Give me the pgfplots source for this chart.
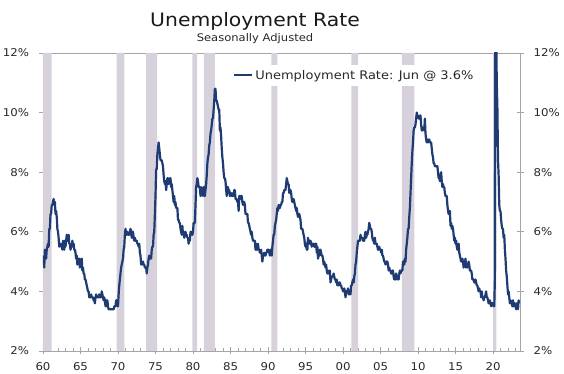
\documentclass[border=0pt]{standalone}
\usepackage{pgfplots}
\pgfplotsset{compat=1.18}
\usepackage{pgfplotstable}
\usepackage{fontspec}
\setmainfont{DejaVu Sans}[FakeStretch=1.1]
\definecolor{navy}{RGB}{31,59,115}
\definecolor{recess}{RGB}{214,209,219}
\definecolor{axgray}{RGB}{165,165,165}
\definecolor{txt}{RGB}{40,40,40}
\pgfplotstableread[row sep=\\]{u\\
5.2\\4.8\\5.4\\5.2\\5.1\\5.4\\5.5\\5.6\\5.5\\6.1\\6.1\\6.6\\
6.6\\6.9\\6.9\\7.0\\7.1\\6.9\\7.0\\6.6\\6.7\\6.5\\6.1\\6.0\\
5.8\\5.5\\5.6\\5.6\\5.5\\5.5\\5.4\\5.7\\5.6\\5.4\\5.7\\5.5\\
5.7\\5.9\\5.7\\5.7\\5.9\\5.6\\5.6\\5.4\\5.5\\5.5\\5.7\\5.5\\
5.6\\5.4\\5.4\\5.3\\5.1\\5.2\\4.9\\5.0\\5.1\\5.1\\4.8\\5.0\\
4.9\\5.1\\4.7\\4.8\\4.6\\4.6\\4.4\\4.4\\4.3\\4.2\\4.1\\4.0\\
4.0\\3.8\\3.8\\3.8\\3.9\\3.8\\3.8\\3.8\\3.7\\3.7\\3.6\\3.8\\
3.9\\3.8\\3.8\\3.8\\3.8\\3.9\\3.8\\3.8\\3.8\\4.0\\3.9\\3.8\\
3.7\\3.8\\3.7\\3.5\\3.5\\3.7\\3.7\\3.5\\3.4\\3.4\\3.4\\3.4\\
3.4\\3.4\\3.4\\3.4\\3.4\\3.5\\3.5\\3.5\\3.7\\3.7\\3.5\\3.5\\
3.9\\4.2\\4.4\\4.6\\4.8\\4.9\\5.0\\5.1\\5.4\\5.5\\5.9\\6.1\\
5.9\\5.9\\6.0\\5.9\\5.9\\5.9\\6.0\\6.1\\6.0\\5.8\\6.0\\6.0\\
5.8\\5.7\\5.8\\5.7\\5.7\\5.7\\5.6\\5.6\\5.5\\5.6\\5.3\\5.2\\
4.9\\5.0\\4.9\\5.0\\4.9\\4.9\\4.8\\4.8\\4.8\\4.6\\4.8\\4.9\\
5.1\\5.2\\5.1\\5.1\\5.1\\5.4\\5.5\\5.5\\5.9\\6.0\\6.6\\7.2\\
8.1\\8.1\\8.6\\8.8\\9.0\\8.8\\8.6\\8.4\\8.4\\8.4\\8.3\\8.2\\
7.9\\7.7\\7.6\\7.7\\7.4\\7.6\\7.8\\7.8\\7.6\\7.7\\7.8\\7.8\\
7.5\\7.6\\7.4\\7.2\\7.0\\7.2\\6.9\\7.0\\6.8\\6.8\\6.8\\6.4\\
6.4\\6.3\\6.3\\6.1\\6.0\\5.9\\6.2\\5.9\\6.0\\5.8\\5.9\\6.0\\
5.9\\5.9\\5.8\\5.8\\5.6\\5.7\\5.7\\6.0\\5.9\\6.0\\5.9\\6.0\\
6.3\\6.3\\6.3\\6.9\\7.5\\7.6\\7.8\\7.7\\7.5\\7.5\\7.5\\7.2\\
7.5\\7.4\\7.4\\7.2\\7.5\\7.5\\7.2\\7.4\\7.6\\7.9\\8.3\\8.5\\
8.6\\8.9\\9.0\\9.3\\9.4\\9.6\\9.8\\9.8\\10.1\\10.4\\10.8\\10.8\\
10.4\\10.4\\10.3\\10.2\\10.1\\10.1\\9.4\\9.5\\9.2\\8.8\\8.5\\8.3\\
8.0\\7.8\\7.8\\7.7\\7.4\\7.2\\7.5\\7.5\\7.3\\7.4\\7.2\\7.3\\
7.3\\7.2\\7.2\\7.3\\7.2\\7.4\\7.4\\7.1\\7.1\\7.1\\7.0\\7.0\\
6.7\\7.2\\7.2\\7.1\\7.2\\7.2\\7.0\\6.9\\7.0\\7.0\\6.9\\6.6\\
6.6\\6.6\\6.6\\6.3\\6.3\\6.2\\6.1\\6.0\\5.9\\6.0\\5.8\\5.7\\
5.7\\5.7\\5.7\\5.4\\5.6\\5.4\\5.4\\5.6\\5.4\\5.4\\5.3\\5.3\\
5.4\\5.2\\5.0\\5.2\\5.2\\5.3\\5.2\\5.2\\5.3\\5.3\\5.4\\5.4\\
5.4\\5.3\\5.2\\5.4\\5.4\\5.2\\5.5\\5.7\\5.9\\5.9\\6.2\\6.3\\
6.4\\6.6\\6.8\\6.7\\6.9\\6.9\\6.8\\6.9\\6.9\\7.0\\7.0\\7.3\\
7.3\\7.4\\7.4\\7.4\\7.6\\7.8\\7.7\\7.6\\7.6\\7.3\\7.4\\7.4\\
7.3\\7.1\\7.0\\7.1\\7.1\\7.0\\6.9\\6.8\\6.7\\6.8\\6.6\\6.5\\
6.6\\6.6\\6.5\\6.4\\6.1\\6.1\\6.1\\6.0\\5.9\\5.8\\5.6\\5.5\\
5.6\\5.4\\5.4\\5.8\\5.6\\5.6\\5.7\\5.7\\5.6\\5.5\\5.6\\5.6\\
5.6\\5.5\\5.5\\5.6\\5.6\\5.3\\5.5\\5.1\\5.2\\5.2\\5.4\\5.4\\
5.3\\5.2\\5.2\\5.1\\4.9\\5.0\\4.9\\4.8\\4.9\\4.7\\4.6\\4.7\\
4.6\\4.6\\4.7\\4.3\\4.4\\4.5\\4.5\\4.5\\4.6\\4.5\\4.4\\4.4\\
4.3\\4.4\\4.2\\4.3\\4.2\\4.3\\4.3\\4.2\\4.2\\4.1\\4.1\\4.0\\
4.0\\4.1\\4.0\\3.8\\4.0\\4.0\\4.0\\4.1\\3.9\\3.9\\3.9\\3.9\\
4.2\\4.2\\4.3\\4.4\\4.3\\4.5\\4.6\\4.9\\5.0\\5.3\\5.5\\5.7\\
5.7\\5.7\\5.7\\5.9\\5.8\\5.8\\5.8\\5.7\\5.7\\5.7\\5.9\\6.0\\
5.8\\5.9\\5.9\\6.0\\6.1\\6.3\\6.2\\6.1\\6.1\\6.0\\5.8\\5.7\\
5.7\\5.6\\5.8\\5.6\\5.6\\5.6\\5.5\\5.4\\5.4\\5.5\\5.4\\5.4\\
5.3\\5.4\\5.2\\5.2\\5.1\\5.0\\5.0\\4.9\\5.0\\5.0\\5.0\\4.9\\
4.7\\4.8\\4.7\\4.7\\4.6\\4.6\\4.7\\4.7\\4.5\\4.4\\4.5\\4.4\\
4.6\\4.5\\4.4\\4.5\\4.4\\4.6\\4.7\\4.6\\4.7\\4.7\\4.7\\5.0\\
5.0\\4.9\\5.1\\5.0\\5.4\\5.6\\5.8\\6.1\\6.1\\6.5\\6.8\\7.3\\
7.8\\8.3\\8.7\\9.0\\9.4\\9.5\\9.5\\9.6\\9.8\\10.0\\9.9\\9.9\\
9.8\\9.8\\9.9\\9.9\\9.6\\9.4\\9.4\\9.5\\9.5\\9.4\\9.8\\9.3\\
9.1\\9.0\\9.0\\9.1\\9.0\\9.1\\9.0\\9.0\\9.0\\8.8\\8.6\\8.5\\
8.3\\8.3\\8.2\\8.2\\8.2\\8.2\\8.2\\8.0\\7.8\\7.8\\7.7\\7.9\\
8.0\\7.7\\7.5\\7.6\\7.5\\7.5\\7.3\\7.2\\7.2\\7.2\\6.9\\6.7\\
6.6\\6.7\\6.7\\6.2\\6.3\\6.1\\6.2\\6.1\\5.9\\5.7\\5.8\\5.6\\
5.7\\5.5\\5.4\\5.4\\5.6\\5.3\\5.2\\5.1\\5.0\\5.0\\5.1\\5.0\\
4.8\\4.9\\5.0\\5.1\\4.8\\4.9\\4.8\\4.9\\5.0\\4.9\\4.7\\4.7\\
4.7\\4.6\\4.4\\4.4\\4.4\\4.3\\4.3\\4.4\\4.3\\4.2\\4.2\\4.1\\
4.0\\4.1\\4.0\\4.0\\3.8\\4.0\\3.8\\3.8\\3.7\\3.8\\3.8\\3.9\\
4.0\\3.8\\3.8\\3.7\\3.6\\3.6\\3.7\\3.6\\3.5\\3.6\\3.6\\3.6\\
3.5\\3.5\\4.4\\14.8\\13.2\\11.0\\10.2\\8.4\\7.9\\6.9\\6.7\\6.7\\
6.4\\6.2\\6.1\\6.1\\5.8\\5.9\\5.4\\5.1\\4.7\\4.5\\4.2\\3.9\\
4.0\\3.8\\3.6\\3.7\\3.6\\3.6\\3.5\\3.7\\3.5\\3.6\\3.6\\3.5\\
3.4\\3.6\\3.5\\3.4\\3.7\\3.6\\
}\unrate
\begin{document}
\begin{tikzpicture}
\path[use as bounding box] (-43pt,-23pt) rectangle (521pt,351pt);
\begin{axis}[
  at={(0pt,0pt)}, anchor=south west,
  scale only axis, width=477pt, height=298pt,
  xmin=1960, xmax=2023.6, ymin=2, ymax=12,
  /pgf/number format/assume math mode=true,
  axis line style={axgray, line width=0.8pt},
  tick style={axgray, line width=0.8pt},
  tick align=center,
  major tick length=7pt, minor tick length=3.5pt,
  minor tick style={yshift=1.5pt},
  xtick={1960,1965,...,2020},
  xticklabels={60,65,70,75,80,85,90,95,00,05,10,15,20},
  minor xtick={1961,1962,...,2023},
  xtick pos=lower, ytick pos=both,
  ytick={2,4,...,12},
  yticklabels={2\%,4\%,6\%,8\%,10\%,12\%},
  ticklabel style={font=\fontsize{10.7}{12}\selectfont, text=txt},
  yticklabel style={xshift=-7pt},
  xticklabel style={yshift=-5pt},
  legend style={at={(0.392,0.96)}, anchor=north west, draw=none, fill=white,
    font=\fontsize{11.8}{14}\selectfont, text=txt, inner xsep=3pt, inner ysep=3pt},
  legend image code/.code={\draw[#1] (0pt,0pt) -- (18pt,0pt);},
]
\addplot[fill=recess, draw=none, forget plot] coordinates {(1960,2) (1960,12) (1961.15,12) (1961.15,2)} \closedcycle;
\addplot[fill=recess, draw=none, forget plot] coordinates {(1969.8,2) (1969.8,12) (1970.85,12) (1970.85,2)} \closedcycle;
\addplot[fill=recess, draw=none, forget plot] coordinates {(1973.75,2) (1973.75,12) (1975.2,12) (1975.2,2)} \closedcycle;
\addplot[fill=recess, draw=none, forget plot] coordinates {(1979.9,2) (1979.9,12) (1980.55,12) (1980.55,2)} \closedcycle;
\addplot[fill=recess, draw=none, forget plot] coordinates {(1981.45,2) (1981.45,12) (1982.9,12) (1982.9,2)} \closedcycle;
\addplot[fill=recess, draw=none, forget plot] coordinates {(1990.45,2) (1990.45,12) (1991.25,12) (1991.25,2)} \closedcycle;
\addplot[fill=recess, draw=none, forget plot] coordinates {(2001.1,2) (2001.1,12) (2002.0,12) (2002.0,2)} \closedcycle;
\addplot[fill=recess, draw=none, forget plot] coordinates {(2007.85,2) (2007.85,12) (2009.5,12) (2009.5,2)} \closedcycle;
\addplot[fill=recess, draw=none, forget plot] coordinates {(2020.0,2) (2020.0,12) (2020.45,12) (2020.45,2)} \closedcycle;
\addplot[navy, line width=2.2pt, line join=round] table[x expr={1960+(\coordindex+1)/12}, y=u]{\unrate};
\addlegendentry{Unemployment Rate: Jun @ 3.6\%}
\end{axis}
\begin{axis}[
  at={(0pt,0pt)}, anchor=south west,
  scale only axis, width=477pt, height=298pt,
  xmin=1960, xmax=2023.6, ymin=2, ymax=12,
  axis x line=none, axis y line*=right,
  axis line style={draw=none},
  major tick length=0pt,
  ytick={2,4,...,12},
  yticklabels={2\%,4\%,6\%,8\%,10\%,12\%},
  ticklabel style={font=\fontsize{10.7}{12}\selectfont, text=txt},
  yticklabel style={xshift=10pt},
]
\addplot[draw=none] coordinates {(1960,2)};
\end{axis}
\node[anchor=base, font=\fontsize{18.5}{20}\selectfont, text=black!90] at (212pt,324pt) {Unemployment Rate};
\node[anchor=base, font=\fontsize{10.5}{12}\selectfont, text=txt] at (212pt,309pt) {Seasonally Adjusted};
\end{tikzpicture}
\end{document}
